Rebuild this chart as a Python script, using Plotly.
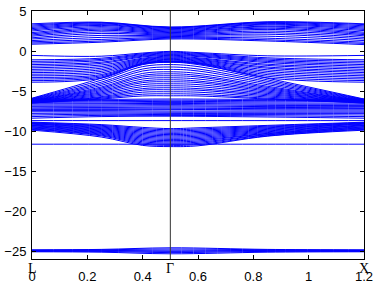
import plotly.graph_objects as go

# k-path sample points (L -> Gamma -> X)
k_points = [0.0, 0.25, 0.5, 0.85, 1.2]
k_points_fine = [0.0, 0.25, 0.4, 0.5, 0.6, 0.85, 1.2]
k_labels = ["L", "Γ", "X"]
k_label_pos = [0.0, 0.5, 1.2]

# band energies (eV)
# (on k_points)
conduction = [
    [0.85, 1.10, 1.50, 1.25, 0.80],
    [1.00, 1.25, 1.60, 1.40, 0.95],
    [1.15, 1.45, 1.70, 1.60, 1.10],
    [1.30, 1.70, 1.80, 1.85, 1.30],
    [1.50, 1.95, 1.90, 2.10, 1.50],
    [1.65, 2.20, 2.00, 2.30, 1.70],
    [1.85, 2.40, 2.10, 2.50, 1.90],
    [2.00, 2.60, 2.20, 2.70, 2.05],
    [2.15, 2.75, 2.30, 2.85, 2.20],
    [2.30, 2.90, 2.40, 3.00, 2.35],
    [2.50, 3.05, 2.50, 3.10, 2.55],
    [2.65, 3.20, 2.60, 3.25, 2.70],
    [2.80, 3.30, 2.70, 3.35, 2.85],
    [2.95, 3.40, 2.80, 3.45, 3.00],
    [3.10, 3.50, 2.90, 3.55, 3.15],
    [3.25, 3.55, 2.95, 3.60, 3.30],
    [3.40, 3.60, 3.00, 3.65, 3.40],
]

# (on k_points_fine)
upper_valence = [
    [-0.55, -0.65, -0.25, -0.05, -0.20, -0.60, -0.55],
    [-1.10, -0.90, -0.35, -0.15, -0.30, -0.85, -1.10],
    [-1.30, -1.05, -0.45, -0.25, -0.40, -1.00, -1.30],
    [-1.50, -1.20, -0.55, -0.35, -0.50, -1.15, -1.50],
    [-1.70, -1.40, -0.65, -0.45, -0.60, -1.30, -1.70],
    [-1.90, -1.55, -0.75, -0.55, -0.70, -1.45, -1.90],
    [-2.10, -1.75, -0.90, -0.65, -0.85, -1.65, -2.10],
    [-2.30, -1.95, -1.00, -0.75, -0.95, -1.80, -2.30],
    [-2.50, -2.15, -1.10, -0.85, -1.05, -2.00, -2.50],
    [-2.70, -2.35, -1.20, -0.95, -1.15, -2.15, -2.70],
    [-2.90, -2.55, -1.30, -1.05, -1.25, -2.35, -2.90],
    [-3.10, -2.75, -1.40, -1.15, -1.35, -2.55, -3.10],
    [-3.30, -2.95, -1.50, -1.25, -1.45, -2.75, -3.30],
    [-3.50, -3.10, -1.55, -1.30, -1.50, -2.95, -3.50],
    [-3.70, -3.25, -1.60, -1.35, -1.55, -3.15, -3.70],
    [-3.90, -3.40, -1.65, -1.40, -1.60, -3.35, -3.90],
]

# (on k_points_fine)
fan = [
    [-5.90, -3.40, -1.70, -1.40, -1.70, -3.40, -6.00],
    [-5.95, -3.65, -1.95, -1.70, -1.95, -3.60, -6.05],
    [-6.00, -3.90, -2.25, -2.00, -2.25, -3.80, -6.10],
    [-6.05, -4.10, -2.50, -2.30, -2.50, -4.00, -6.15],
    [-6.10, -4.30, -2.80, -2.60, -2.80, -4.20, -6.20],
    [-6.15, -4.50, -3.05, -2.85, -3.05, -4.40, -6.25],
    [-6.20, -4.65, -3.25, -3.10, -3.25, -4.55, -6.25],
    [-6.20, -4.80, -3.50, -3.35, -3.50, -4.70, -6.30],
    [-6.25, -4.95, -3.75, -3.60, -3.75, -4.85, -6.30],
    [-6.30, -5.10, -3.95, -3.85, -3.95, -5.00, -6.35],
    [-6.30, -5.25, -4.20, -4.10, -4.20, -5.15, -6.35],
    [-6.35, -5.40, -4.45, -4.35, -4.45, -5.30, -6.40],
    [-6.40, -5.55, -4.70, -4.60, -4.70, -5.45, -6.40],
    [-6.40, -5.70, -4.90, -4.85, -4.90, -5.60, -6.45],
    [-6.45, -5.80, -5.15, -5.10, -5.15, -5.75, -6.45],
    [-6.50, -5.90, -5.40, -5.35, -5.40, -5.90, -6.50],
    [-6.50, -6.00, -5.62, -5.60, -5.62, -6.00, -6.50],
]

# (on k_points)
middle = [
    [-6.00, -6.05, -6.00, -6.05, -6.00],
    [-6.15, -6.20, -6.15, -6.20, -6.15],
    [-6.30, -6.35, -6.30, -6.35, -6.30],
    [-6.45, -6.50, -6.45, -6.50, -6.50],
    [-6.60, -6.60, -6.55, -6.65, -6.65],
    [-6.75, -6.75, -6.70, -6.80, -6.80],
    [-6.90, -6.90, -6.85, -6.95, -6.95],
    [-7.00, -7.05, -7.00, -7.05, -7.10],
    [-7.15, -7.15, -7.15, -7.20, -7.20],
    [-7.30, -7.30, -7.30, -7.35, -7.35],
    [-7.45, -7.45, -7.50, -7.50, -7.50],
    [-7.60, -7.60, -7.65, -7.65, -7.65],
    [-7.80, -7.75, -7.80, -7.80, -7.80],
    [-8.00, -7.90, -7.95, -7.95, -8.00],
    [-8.20, -8.05, -8.05, -8.10, -8.20],
    [-8.40, -8.20, -8.15, -8.25, -8.40],
]

flat = [
    [-8.70, -8.70, -8.70, -8.70, -8.70],
    [-11.65, -11.65, -11.65, -11.65, -11.65],
]

# (on k_points_fine)
lower = [
    [-8.90, -9.20, -9.55, -9.70, -9.60, -9.30, -8.90],
    [-8.95, -9.30, -9.70, -9.85, -9.75, -9.40, -8.95],
    [-9.00, -9.40, -9.85, -10.00, -9.90, -9.50, -9.00],
    [-9.05, -9.50, -10.00, -10.15, -10.05, -9.60, -9.05],
    [-9.10, -9.60, -10.15, -10.30, -10.20, -9.70, -9.10],
    [-9.15, -9.70, -10.30, -10.45, -10.35, -9.80, -9.15],
    [-9.25, -9.80, -10.45, -10.60, -10.50, -9.90, -9.25],
    [-9.30, -9.90, -10.60, -10.75, -10.65, -10.00, -9.30],
    [-9.35, -10.00, -10.75, -10.90, -10.80, -10.10, -9.35],
    [-9.45, -10.10, -10.90, -11.05, -10.95, -10.20, -9.45],
    [-9.50, -10.20, -11.05, -11.20, -11.10, -10.30, -9.50],
    [-9.60, -10.30, -11.20, -11.35, -11.25, -10.35, -9.60],
    [-9.65, -10.40, -11.35, -11.50, -11.40, -10.45, -9.65],
    [-9.75, -10.50, -11.50, -11.65, -11.55, -10.50, -9.75],
    [-9.80, -10.60, -11.65, -11.80, -11.70, -10.60, -9.80],
    [-9.90, -10.75, -11.80, -11.95, -11.85, -10.65, -9.90],
]

# (on k_points)
deep = [
    [-24.85, -24.80, -24.60, -24.80, -24.85],
    [-24.90, -24.85, -24.75, -24.85, -24.90],
    [-24.95, -24.95, -24.90, -24.95, -24.95],
    [-25.00, -25.00, -25.05, -25.00, -25.00],
    [-25.05, -25.05, -25.20, -25.05, -25.05],
    [-25.10, -25.15, -25.35, -25.15, -25.10],
]

y_ticks = [5, 0, -5, -10, -15, -20, -25]
x_ticks = [0, 0.2, 0.4, 0.6, 0.8, 1, 1.2]
x_tick_text = ["0", "0.2", "0.4", "0.6", "0.8", "1", "1.2"]

fig = go.Figure()

groups = [
    (k_points, conduction),
    (k_points_fine, upper_valence),
    (k_points_fine, fan),
    (k_points, middle),
    (k_points, flat),
    (k_points_fine, lower),
    (k_points, deep),
]
for ks, group in groups:
    for band in group:
        fig.add_trace(go.Scatter(
            x=ks, y=band, mode="lines",
            line=dict(color="#0000ff", width=1.0, shape="spline", smoothing=1.0),
            showlegend=False, hoverinfo="skip",
        ))

# vertical line at Gamma
fig.add_trace(go.Scatter(
    x=[k_label_pos[1], k_label_pos[1]], y=[-26, 5], mode="lines",
    line=dict(color="#333333", width=1), showlegend=False, hoverinfo="skip",
))

font = dict(family="Liberation Sans, Arial, sans-serif", size=13, color="black")

fig.update_layout(
    width=374, height=284,
    margin=dict(l=32, r=10, t=11, b=25, autoexpand=False),
    paper_bgcolor="white", plot_bgcolor="white",
    font=font,
    xaxis=dict(
        range=[0, 1.2], tickvals=x_ticks, ticktext=x_tick_text,
        ticks="inside", ticklen=4, tickcolor="black",
        showline=True, linecolor="black", linewidth=1, mirror="ticks",
        showgrid=False, zeroline=False, ticklabelstandoff=5, automargin=False,
    ),
    yaxis=dict(
        range=[-26, 5], tickvals=y_ticks,
        ticks="inside", ticklen=4, tickcolor="black",
        showline=True, linecolor="black", linewidth=1, mirror="ticks",
        showgrid=False, zeroline=False, ticklabelstandoff=2, automargin=False,
    ),
)

for lab, pos in zip(k_labels, k_label_pos):
    fig.add_annotation(
        x=pos, y=0, xref="x", yref="paper", text=lab, showarrow=False,
        yanchor="top", yshift=0,
        font=dict(family="Liberation Serif, serif", size=14, color="black"),
    )

fig.write_html("out.html")
